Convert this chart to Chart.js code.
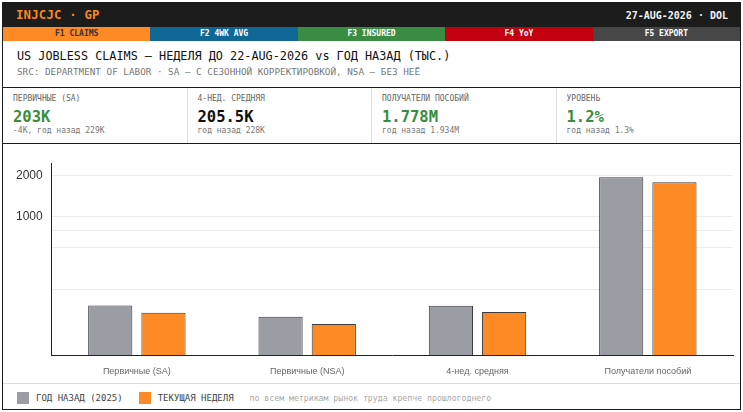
<!DOCTYPE html>
<html>
<head>
<meta charset="utf-8">
<script src="https://cdn.jsdelivr.net/npm/chart.js@4.4.1/dist/chart.umd.min.js"></script>
<style>
  html, body { margin: 0; padding: 0; background: #fff; }
  body { width: 743px; height: 412px; overflow: hidden; position: relative; font-family: "DejaVu Sans Mono", monospace; }
  .card { position: absolute; left: 2px; top: 2px; width: 737px; height: 406px; border: 1px solid #1a1a1a; background: #fff; }
  .hdr { height: 24px; background: #1c1c1c; display: flex; align-items: center; justify-content: space-between; padding: 0 12px 0 13px; }
  .hdr .code { color: #f7891f; font-weight: bold; font-size: 12.3px; letter-spacing: 0.2px; }
  .hdr .date { color: #f2f2f2; font-size: 10px; font-weight: bold; }
  .tabs { height: 14px; display: flex; }
  .tabs div { flex: 1; text-align: center; font-size: 8px; font-weight: bold; line-height: 14px; color: #fff; }
  .t1 { background: #fd8a24; color: #333 !important; }
  .t2 { background: #0e6795; }
  .t3 { background: #3b8c43; }
  .t4 { background: #c2000f; }
  .t5 { background: #474747; }
  .ttl { height: 46px; border-bottom: 1px solid #1a1a1a; padding-left: 14px; box-sizing: content-box; }
  .ttl .main { padding-top: 8px; font-size: 11.8px; line-height: 14px; color: #111; font-weight: 500; }
  .ttl .sub { margin-top: 3px; font-size: 9.3px; line-height: 12px; color: #777; }
  .kpis { height: 55px; display: flex; border-bottom: 1px solid #1a1a1a; }
  .kpi { flex: 1; padding-left: 10px; border-left: 1px solid #ddd; }
  .kpi:first-child { border-left: none; }
  .kpi .lbl { padding-top: 6px; font-size: 8px; line-height: 10px; color: #666; }
  .kpi .val { margin-top: 4px; font-size: 15.5px; line-height: 18px; font-weight: bold; color: #388e3c; }
  .kpi .val.dark { color: #111; }
  .kpi .sb { font-size: 8px; line-height: 10px; color: #777; }
  .chartwrap { height: 239px; position: relative; border-bottom: 1px solid #ddd; }
  .legend { height: 25px; display: flex; align-items: center; padding-left: 14px; padding-top: 3px; box-sizing: border-box; font-size: 9px; color: #444; }
  .legend .sw { width: 12px; height: 12px; margin-right: 7px; }
  .legend .it { display: flex; align-items: center; margin-right: 16px; }
  .legend .note { color: #aaa; font-size: 8.2px; }
</style>
</head>
<body>
<div class="card">
  <div class="hdr"><span class="code">INJCJC · GP</span><span class="date">27-AUG-2026 · DOL</span></div>
  <div class="tabs">
    <div class="t1">F1 CLAIMS</div><div class="t2">F2 4WK AVG</div><div class="t3">F3 INSURED</div><div class="t4">F4 YoY</div><div class="t5">F5 EXPORT</div>
  </div>
  <div class="ttl">
    <div class="main">US JOBLESS CLAIMS — НЕДЕЛЯ ДО 22-AUG-2026 vs ГОД НАЗАД (ТЫС.)</div>
    <div class="sub">SRC: DEPARTMENT OF LABOR · SA — С СЕЗОННОЙ КОРРЕКТИРОВКОЙ, NSA — БЕЗ НЕЁ</div>
  </div>
  <div class="kpis" id="kpis"></div>
  <div class="chartwrap"><canvas id="c"></canvas></div>
  <div class="legend">
    <span class="it"><span class="sw" style="background:#9a9ea4"></span>ГОД НАЗАД (2025)</span>
    <span class="it"><span class="sw" style="background:#fd8a24"></span>ТЕКУЩАЯ НЕДЕЛЯ</span>
    <span class="note">по всем метрикам рынок труда крепче прошлогоднего</span>
  </div>
</div>
<script>
// values in thousands
const categories = ['Первичные (SA)', 'Первичные (NSA)', '4-нед. средняя', 'Получатели пособий'];
const yearAgo = [229, 190, 228, 1934];
const current = [203, 168, 205.5, 1778];

const gridTicks = [100, 300, 600, 800, 1000, 2000];
const labeledTicks = [1000, 2000];
const yMin = 100;
const yMax = 2450;

const kpiLabels = ['ПЕРВИЧНЫЕ (SA)', '4-НЕД. СРЕДНЯЯ', 'ПОЛУЧАТЕЛИ ПОСОБИЙ', 'УРОВЕНЬ'];
const kpiValues = ['203K', '205.5K', '1.778M', '1.2%'];
const kpiSubs = ['-4K, год назад 229K', 'год назад 228K', 'год назад 1.934M', 'год назад 1.3%'];
const kpiDark = [false, true, false, false];

// build kpi row
let kpiRow = document.getElementById('kpis');
for (let i = 0; i < kpiLabels.length; i++) {
    let cell = document.createElement('div');
    cell.className = 'kpi';
    let lbl = document.createElement('div');
    lbl.className = 'lbl';
    lbl.textContent = kpiLabels[i];
    let val = document.createElement('div');
    val.className = kpiDark[i] ? 'val dark' : 'val';
    val.textContent = kpiValues[i];
    let sb = document.createElement('div');
    sb.className = 'sb';
    sb.textContent = kpiSubs[i];
    cell.appendChild(lbl);
    cell.appendChild(val);
    cell.appendChild(sb);
    kpiRow.appendChild(cell);
}

const config = {
    type: 'bar',
    data: {
        labels: categories,
        datasets: [
            {
                label: 'ГОД НАЗАД (2025)',
                data: yearAgo,
                backgroundColor: '#9a9ea4',
                borderColor: '#3a3a3a',
                borderWidth: 1
            },
            {
                label: 'ТЕКУЩАЯ НЕДЕЛЯ',
                data: current,
                backgroundColor: '#fd8a24',
                borderColor: '#3a3a3a',
                borderWidth: 1
            }
        ]
    },
    options: {
        responsive: true,
        maintainAspectRatio: false,
        animation: false,
        categoryPercentage: 0.625,
        barPercentage: 0.83,
        layout: { padding: { top: 19, right: 7, bottom: -5, left: 4 } },
        plugins: {
            legend: { display: false },
            tooltip: { enabled: false }
        },
        scales: {
            x: {
                grid: { display: false, drawTicks: false },
                border: { color: '#222', width: 1 },
                ticks: {
                    color: '#666',
                    padding: 11,
                    font: { family: 'Liberation Sans, Arial, sans-serif', size: 9 }
                }
            },
            y: {
                type: 'logarithmic',
                min: yMin,
                max: yMax,
                afterBuildTicks: (axis) => {
                    axis.ticks = gridTicks.map(v => ({ value: v }));
                },
                grid: { color: '#ececec', drawTicks: false },
                border: { color: '#222', width: 1 },
                ticks: {
                    autoSkip: false,
                    padding: 9,
                    color: '#333',
                    font: { family: 'Liberation Sans, Arial, sans-serif', size: 12 },
                    callback: (v) => labeledTicks.includes(v) ? String(v) : ''
                }
            }
        }
    }
};

let chart = new Chart(document.getElementById('c').getContext('2d'), config);
</script>
</body>
</html>
